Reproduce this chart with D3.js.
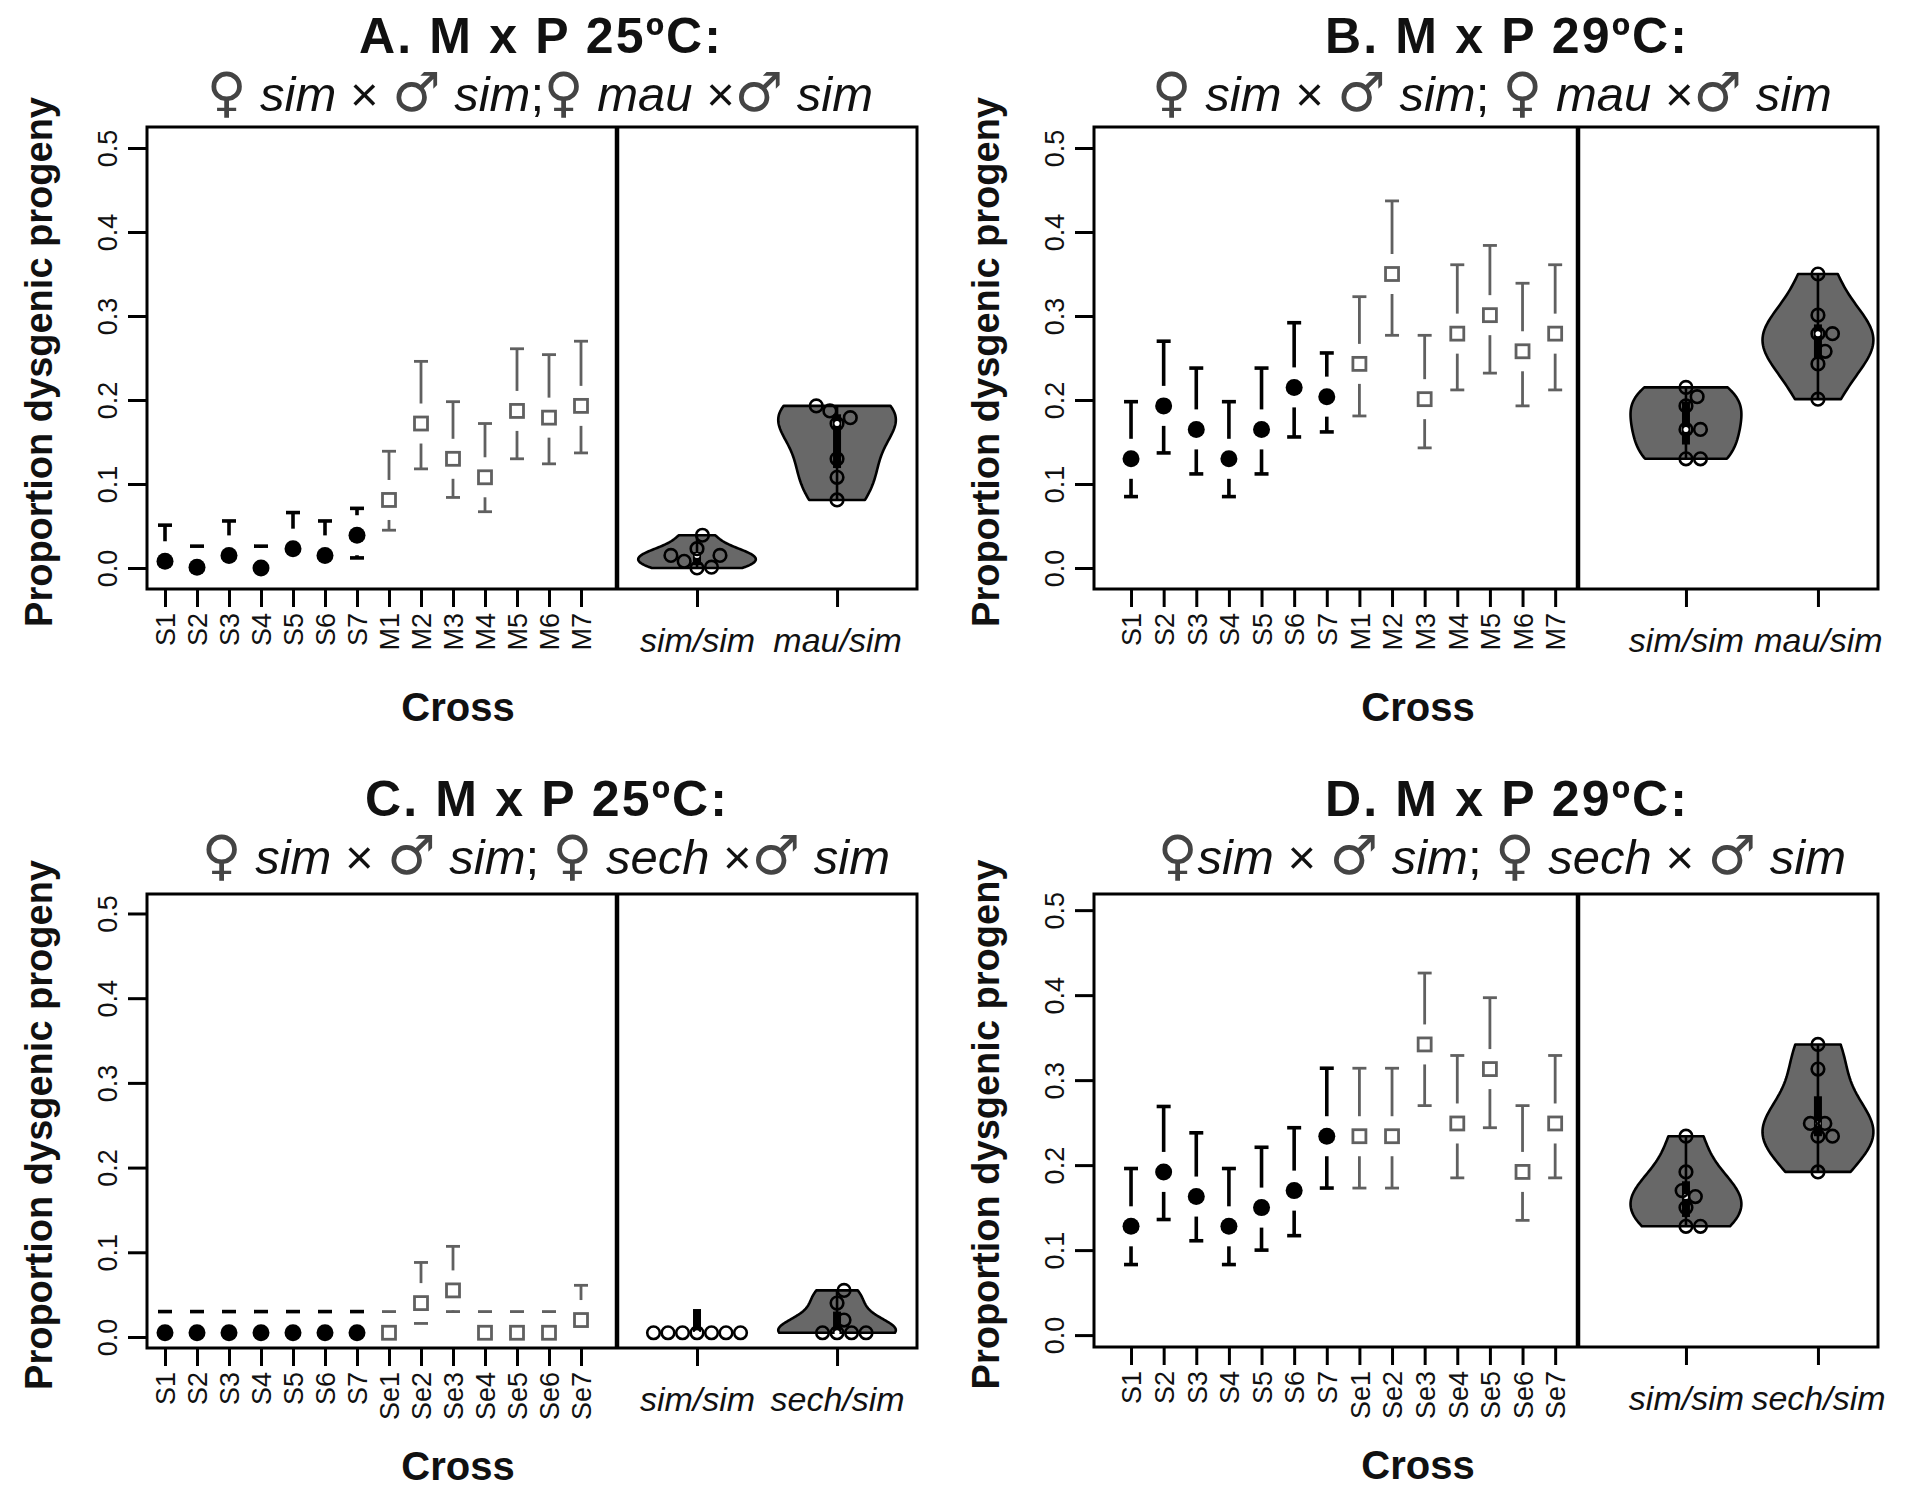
<!DOCTYPE html>
<html>
<head>
<meta charset="utf-8">
<script src="https://cdn.jsdelivr.net/npm/d3@7"></script>
<style>
  html, body { margin: 0; padding: 0; background: #fff; }
  svg { display: block; }
  text { font-family: "Liberation Sans", Arial, Helvetica, sans-serif; fill: #111; }
</style>
</head>
<body>
<div id="chart"></div>
<script>
// ---- data ----
const crossesMau  = ["S1","S2","S3","S4","S5","S6","S7","M1","M2","M3","M4","M5","M6","M7"];
const crossesSech = ["S1","S2","S3","S4","S5","S6","S7","Se1","Se2","Se3","Se4","Se5","Se6","Se7"];
const groupsMau  = ["sim/sim", "mau/sim"];
const groupsSech = ["sim/sim", "sech/sim"];
const yTicks = [0, 0.1, 0.2, 0.3, 0.4, 0.5];

// A: mau x sim, 25C
const meanA = [0.008, 0.001, 0.015, 0.000, 0.023, 0.015, 0.039, 0.081, 0.172, 0.130, 0.108, 0.187, 0.179, 0.193];
const lowA  = [0.000, 0.000, 0.000, 0.000, 0.000, 0.000, 0.012, 0.045, 0.118, 0.084, 0.067, 0.130, 0.124, 0.137];
const highA = [0.051, 0.026, 0.056, 0.026, 0.066, 0.056, 0.071, 0.139, 0.246, 0.198, 0.172, 0.261, 0.254, 0.270];
const hingesA = [[0.0035, 0.019], [0.119, 0.183]];

// B: mau x sim, 29C
const meanB = [0.130, 0.193, 0.165, 0.130, 0.165, 0.215, 0.204, 0.243, 0.350, 0.201, 0.279, 0.301, 0.258, 0.279];
const lowB  = [0.085, 0.137, 0.112, 0.085, 0.112, 0.156, 0.162, 0.181, 0.277, 0.143, 0.212, 0.232, 0.193, 0.212];
const highB = [0.198, 0.270, 0.238, 0.198, 0.238, 0.292, 0.256, 0.323, 0.437, 0.277, 0.361, 0.384, 0.339, 0.361];
const hingesB = [[0.147, 0.198], [0.250, 0.290]];

// C: sech x sim, 25C
const meanC = [0.005, 0.005, 0.005, 0.005, 0.005, 0.005, 0.005, 0.005, 0.040, 0.055, 0.005, 0.005, 0.005, 0.020];
const lowC  = [0.000, 0.000, 0.000, 0.000, 0.000, 0.000, 0.000, 0.000, 0.016, 0.030, 0.000, 0.000, 0.000, 0.008];
const highC = [0.030, 0.030, 0.030, 0.030, 0.030, 0.030, 0.030, 0.030, 0.088, 0.107, 0.030, 0.030, 0.030, 0.061];
const hingesC = [[0.006, 0.033], [0.005, 0.030]];

// D: sech x sim, 29C
const meanD = [0.128, 0.192, 0.163, 0.128, 0.150, 0.170, 0.234, 0.234, 0.234, 0.342, 0.249, 0.313, 0.192, 0.249];
const lowD  = [0.083, 0.136, 0.111, 0.083, 0.100, 0.117, 0.173, 0.173, 0.173, 0.270, 0.185, 0.244, 0.135, 0.185];
const highD = [0.196, 0.269, 0.238, 0.196, 0.221, 0.244, 0.314, 0.314, 0.314, 0.426, 0.329, 0.397, 0.270, 0.329];
const hingesD = [[0.139, 0.181], [0.234, 0.281]];

const titles = ["A. M x P 25ºC:", "B. M x P 29ºC:", "C. M x P 25ºC:", "D. M x P 29ºC:"];
const subtitles = [
  "♀ sim × ♂ sim;♀ mau ×♂ sim",
  "♀ sim × ♂ sim; ♀ mau ×♂ sim",
  "♀ sim × ♂ sim; ♀ sech ×♂ sim",
  "♀sim × ♂ sim; ♀ sech × ♂ sim"
];

// ---- layout ----
const W = 1920, H = 1503;
const grey = "#606060";
const violinFill = "#686868";

const leftBox  = { left: 147, mid: 617, right: 917 };
const rightBox = { left: 1094, mid: 1578, right: 1878 };
const xlimLeft  = { L: [0.4375, 15.125], R: [0.4286, 2.571] };
const xlimRight = { L: [-0.135, 14.7],  R: [0.182, 2.455] };

const panels = [
  { title: titles[0], sub: subtitles[0], crosses: crossesMau, groups: groupsMau,
    mean: meanA, low: lowA, high: highA, hinges: hingesA,
    offX: 0, titleX: 540, subX: 540, box: { ...leftBox, top: 127, bottom: 589 },
    xlim: xlimLeft, ylim: [-0.025, 0.525] },
  { title: titles[1], sub: subtitles[1], crosses: crossesMau, groups: groupsMau,
    mean: meanB, low: lowB, high: highB, hinges: hingesB,
    offX: 960, titleX: 1506, subX: 1492, box: { ...rightBox, top: 127, bottom: 589 },
    xlim: xlimRight, ylim: [-0.025, 0.525] },
  { title: titles[2], sub: subtitles[2], crosses: crossesSech, groups: groupsSech,
    mean: meanC, low: lowC, high: highC, hinges: hingesC,
    offX: 0, titleX: 546, subX: 546, box: { ...leftBox, top: 894, bottom: 1348 },
    xlim: xlimLeft, ylim: [-0.013, 0.523] },
  { title: titles[3], sub: subtitles[3], crosses: crossesSech, groups: groupsSech,
    mean: meanD, low: lowD, high: highD, hinges: hingesD,
    offX: 960, titleX: 1506, subX: 1502, box: { ...rightBox, top: 894, bottom: 1347 },
    xlim: xlimRight, ylim: [-0.014, 0.519] }
];

const svg = d3.select('#chart').append('svg')
  .attr('width', W).attr('height', H)
  .attr('viewBox', `0 0 ${W} ${H}`);

svg.append('rect').attr('width', W).attr('height', H).attr('fill', '#fff');

// normal-kernel density (sm.density style bandwidth), evaluated on the data range
function violinShape(vals) {
  const n = vals.length;
  const sd = d3.deviation(vals);
  if (!sd) return null;
  const h = sd * Math.pow(4 / (3 * n), 0.2);
  const lo = d3.min(vals), hi = d3.max(vals);
  const grid = d3.range(50).map(i => lo + (hi - lo) * i / 49);
  return grid.map(g => [g, d3.mean(vals, v => Math.exp(-0.5 * ((g - v) / h) ** 2)) / h]);
}

// simple swarm layout (beeswarm "swarm", ascending priority)
function swarm(vals, y, d) {
  const pts = vals.map(v => ({ v, y: y(v) })).sort((a, b) => a.v - b.v);
  const placed = [];
  pts.forEach(p => {
    const cand = [0];
    placed.forEach(q => {
      const dy = Math.abs(p.y - q.y);
      if (dy < d) {
        const dx = Math.sqrt(d * d - dy * dy);
        cand.push(q.x + dx, q.x - dx);
      }
    });
    const ok = cand.filter(x => placed.every(q => (x - q.x) ** 2 + (p.y - q.y) ** 2 >= d * d - 0.01));
    ok.sort((a, b) => (Math.abs(a) - Math.abs(b)) || (b - a));
    p.x = ok[0];
    placed.push(p);
  });
  return placed;
}

panels.forEach(p => {
  const b = p.box;
  const g = svg.append('g');
  const offY = b.top > 500 ? 763 : 0;

  const y  = d3.scaleLinear().domain(p.ylim).range([b.bottom, b.top]);
  const xL = d3.scaleLinear().domain(p.xlim.L).range([b.left, b.mid]);
  const xR = d3.scaleLinear().domain(p.xlim.R).range([b.mid, b.right]);

  // --- titles ---
  g.append('text')
    .attr('x', p.titleX).attr('y', offY + 53)
    .attr('text-anchor', 'middle')
    .attr('font-size', 50).attr('font-weight', 'bold')
    .attr('textLength', 362).attr('lengthAdjust', 'spacing')
    .text(p.title);

  const sub = g.append('text')
    .attr('x', p.subX).attr('y', offY + 111)
    .attr('text-anchor', 'middle')
    .attr('font-size', 49);
  p.sub.split(/(sim|mau|sech|♀|♂)/).filter(s => s.length).forEach(s => {
    const t = sub.append('tspan').text(s);
    if (s === '♀' || s === '♂') {
      t.style('font-family', '"DejaVu Sans", sans-serif')
        .attr('font-size', 54).attr('fill', '#444');
    } else if (/^(sim|mau|sech)$/.test(s)) t.attr('font-style', 'italic');
  });

  // y axis title
  g.append('text')
    .attr('transform', `translate(${b.left - 95},${(b.top + b.bottom) / 2 + 4}) rotate(-90)`)
    .attr('text-anchor', 'middle')
    .attr('font-size', 38).attr('font-weight', 'bold')
    .text('Proportion dysgenic progeny');

  // x axis title
  g.append('text')
    .attr('x', p.offX + 458).attr('y', b.bottom + 132)
    .attr('text-anchor', 'middle')
    .attr('font-size', 40).attr('font-weight', 'bold')
    .text('Cross');

  // --- y axis ---
  const yAxis = g.append('g').attr('transform', `translate(${b.left},0)`)
    .call(d3.axisLeft(y).tickValues(yTicks).tickSize(19).tickFormat(d3.format('.1f')));
  yAxis.select('.domain').remove();
  yAxis.selectAll('line').attr('stroke', '#000').attr('stroke-width', 3);
  yAxis.selectAll('text')
    .attr('font-size', 27).attr('fill', '#2a2a2a')
    .attr('x', 0).attr('y', 0).attr('dy', null)
    .attr('text-anchor', 'middle')
    .attr('transform', 'translate(-30,0) rotate(-90)');

  // --- x axes ---
  const idx = p.crosses.map((c, i) => i + 1);
  const xAxisL = g.append('g').attr('transform', `translate(0,${b.bottom})`)
    .call(d3.axisBottom(xL).tickValues(idx).tickSize(18).tickFormat(i => p.crosses[i - 1]));
  xAxisL.select('.domain').remove();
  xAxisL.selectAll('line').attr('stroke', '#000').attr('stroke-width', 3);
  xAxisL.selectAll('text')
    .attr('font-size', 27).attr('fill', '#2a2a2a')
    .attr('y', 0).attr('dy', '0.36em')
    .attr('text-anchor', 'end')
    .attr('transform', 'translate(0,24) rotate(-90)');

  const xAxisR = g.append('g').attr('transform', `translate(0,${b.bottom})`)
    .call(d3.axisBottom(xR).tickValues([1, 2]).tickSize(18).tickFormat(i => p.groups[i - 1]));
  xAxisR.select('.domain').remove();
  xAxisR.selectAll('line').attr('stroke', '#000').attr('stroke-width', 3);
  xAxisR.selectAll('text')
    .attr('font-size', 34).attr('font-style', 'italic').attr('fill', '#111')
    .attr('y', 63).attr('dy', null);

  // --- left: means with CI bars (gap around each point) ---
  const gap = 20, cap = 7;
  const rows = p.mean.map((m, i) => ({ i: i + 1, m, lo: p.low[i], hi: p.high[i], s: i < 7 }));
  const bars = g.append('g');
  rows.forEach(r => {
    const cx = xL(r.i), cy = y(r.m);
    const col = r.s ? '#000' : grey;
    const lw = r.s ? 3.6 : 2.8;
    const up = [y(r.hi), cy - gap];
    const dn = [y(r.lo), cy + gap];
    if (up[0] < up[1]) {
      bars.append('line').attr('x1', cx).attr('x2', cx).attr('y1', up[0]).attr('y2', up[1])
        .attr('stroke', col).attr('stroke-width', lw);
      bars.append('line').attr('x1', cx - cap).attr('x2', cx + cap).attr('y1', up[0]).attr('y2', up[0])
        .attr('stroke', col).attr('stroke-width', lw);
    }
    if (dn[0] > dn[1]) {
      bars.append('line').attr('x1', cx).attr('x2', cx).attr('y1', dn[0]).attr('y2', dn[1])
        .attr('stroke', col).attr('stroke-width', lw);
      bars.append('line').attr('x1', cx - cap).attr('x2', cx + cap).attr('y1', dn[0]).attr('y2', dn[0])
        .attr('stroke', col).attr('stroke-width', lw);
    }
  });

  g.append('g').selectAll('circle')
    .data(rows.filter(r => r.s)).join('circle')
      .attr('cx', r => xL(r.i)).attr('cy', r => y(r.m)).attr('r', 8.5)
      .attr('fill', '#000');

  g.append('g').selectAll('rect')
    .data(rows.filter(r => !r.s)).join('rect')
      .attr('x', r => xL(r.i) - 6.5).attr('y', r => y(r.m) - 6.5)
      .attr('width', 13).attr('height', 13)
      .attr('fill', '#fff').attr('stroke', grey).attr('stroke-width', 2.8);

  // --- right: violins ---
  const groupsVals = [p.mean.slice(0, 7), p.mean.slice(7)];
  groupsVals.forEach((vals, k) => {
    const cx = xR(k + 1);
    const half = xR(k + 1.42) - cx;
    const shape = violinShape(vals);
    if (shape) {
      const maxD = d3.max(shape, s => s[1]);
      const pts = shape.map(s => [cx - s[1] / maxD * half, y(s[0])])
        .concat(shape.slice().reverse().map(s => [cx + s[1] / maxD * half, y(s[0])]));
      g.append('path')
        .attr('d', d3.line()(pts) + 'Z')
        .attr('fill', violinFill).attr('stroke', '#000').attr('stroke-width', 2.6)
        .attr('stroke-linejoin', 'round');
    }
    // whisker + hinge box + median
    g.append('line').attr('x1', cx).attr('x2', cx)
      .attr('y1', y(d3.min(vals))).attr('y2', y(d3.max(vals)))
      .attr('stroke', '#000').attr('stroke-width', 2.6);
    const bw = 4;
    const hg = p.hinges[k];
    g.append('rect').attr('x', cx - bw).attr('width', 2 * bw)
      .attr('y', y(hg[1])).attr('height', y(hg[0]) - y(hg[1]))
      .attr('fill', '#000');
    g.append('circle').attr('cx', cx).attr('cy', y(d3.median(vals))).attr('r', 2.5).attr('fill', '#fff');

    // individual cross means
    g.append('g').selectAll('circle')
      .data(swarm(vals, y, 14.5)).join('circle')
        .attr('cx', d => cx + d.x).attr('cy', d => d.y).attr('r', 6.3)
        .attr('fill', 'none').attr('stroke', '#000').attr('stroke-width', 2.6);
  });

  // --- frames ---
  g.append('rect')
    .attr('x', b.left).attr('y', b.top)
    .attr('width', b.right - b.left).attr('height', b.bottom - b.top)
    .attr('fill', 'none').attr('stroke', '#000').attr('stroke-width', 3);
  g.append('line')
    .attr('x1', b.mid).attr('x2', b.mid).attr('y1', b.top).attr('y2', b.bottom)
    .attr('stroke', '#000').attr('stroke-width', 4.5);
});
</script>
</body>
</html>
